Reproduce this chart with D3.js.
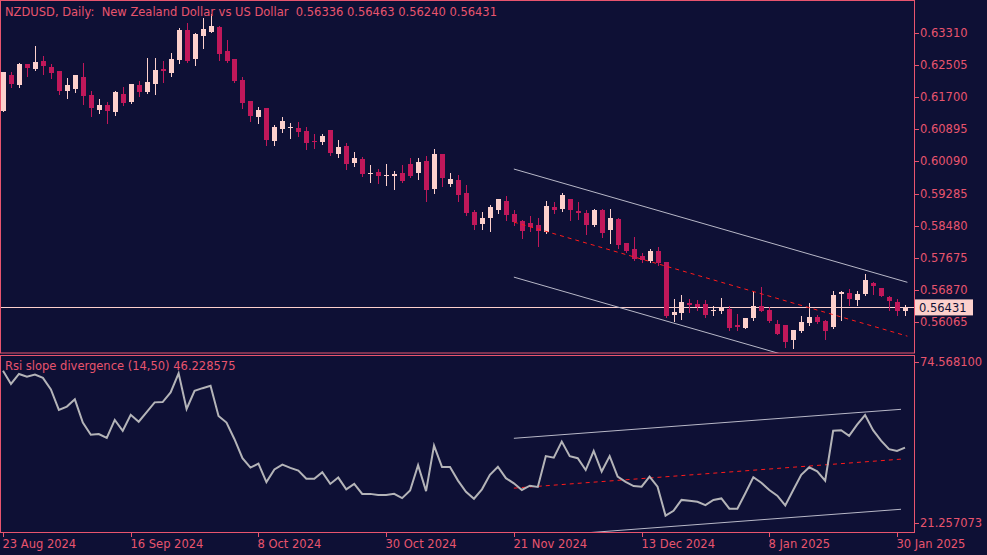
<!DOCTYPE html>
<html><head><meta charset="utf-8">
<script src="https://cdn.jsdelivr.net/npm/d3@7"></script>
<style>body{margin:0;background:#0e1035;}svg{display:block;font-family:"DejaVu Sans",sans-serif;}</style>
</head><body><svg id="c" width="987" height="555"></svg>
<script>
const open=[.6135,.6226,.6201,.6253,.6241,.6261,.6246,.6236,.6186,.6191,.6221,.6176,.6138,.6150,.6133,.6178,.6158,.6201,.6183,.6203,.6241,.6231,.6263,.6339,.6266,.6324,.6334,.6346,.6286,.6266,.6213,.6161,.6120,.6143,.6060,.6090,.6093,.6093,.6085,.6060,.6058,.6088,.6027,.6048,.6005,.6015,.5979,.5982,.5974,.5972,.5980,.6002,.5980,.6010,.5940,.6027,.5952,.5962,.5930,.5882,.5852,.5867,.5887,.5910,.5877,.5859,.5854,.5849,.5832,.5894,.5889,.5915,.5884,.5879,.5849,.5887,.5837,.5864,.5804,.5789,.5771,.5759,.5784,.5756,.5623,.5628,.5653,.5651,.5651,.5633,.5633,.5638,.5598,.5591,.5616,.5646,.5636,.5601,.5598,.5561,.5583,.5603,.5618,.5608,.5593,.5676,.5679,.5661,.5676,.5704,.5691,.5669,.5656,.5633];
const high=[.6233,.6233,.6256,.6253,.6299,.6273,.6253,.6236,.6218,.6226,.6256,.6186,.6166,.6158,.6186,.6196,.6203,.6211,.6268,.6268,.6261,.6281,.6344,.6356,.6331,.6369,.6379,.6349,.6314,.6266,.6221,.6161,.6145,.6143,.6100,.6120,.6105,.6108,.6095,.6078,.6078,.6088,.6063,.6055,.6033,.6020,.6000,.5990,.6002,.5985,.6000,.6017,.6017,.6022,.6040,.6027,.5980,.5975,.5950,.5887,.5882,.5899,.5915,.5922,.5887,.5862,.5872,.5867,.5910,.5907,.5930,.5915,.5907,.5887,.5889,.5889,.5889,.5867,.5804,.5819,.5779,.5789,.5794,.5756,.5664,.5674,.5664,.5661,.5661,.5646,.5666,.5646,.5626,.5616,.5684,.5694,.5643,.5611,.5598,.5586,.5621,.5653,.5623,.5611,.5684,.5684,.5689,.5684,.5726,.5706,.5691,.5671,.5664,.5648];
const low=[.6135,.6196,.6196,.6223,.6238,.6228,.6218,.6178,.6168,.6183,.6153,.6123,.6130,.6105,.6126,.6150,.6155,.6173,.6181,.6178,.6208,.6223,.6256,.6258,.6251,.6294,.6334,.6263,.6258,.6208,.6143,.6110,.6105,.6050,.6050,.6083,.6068,.6073,.6040,.6043,.6053,.6025,.6020,.5990,.5997,.5972,.5957,.5955,.5950,.5940,.5957,.5970,.5965,.5910,.5930,.5947,.5947,.5910,.5874,.5839,.5839,.5834,.5879,.5862,.5849,.5817,.5834,.5797,.5829,.5879,.5884,.5862,.5864,.5827,.5847,.5819,.5804,.5792,.5781,.5761,.5756,.5756,.5749,.5618,.5608,.5613,.5631,.5636,.5618,.5623,.5628,.5586,.5586,.5591,.5611,.5633,.5606,.5576,.5543,.5541,.5581,.5598,.5603,.5563,.5591,.5611,.5648,.5648,.5674,.5676,.5671,.5636,.5623,.5623];
const close=[.6233,.6203,.6253,.6243,.6258,.6248,.6231,.6186,.6201,.6226,.6173,.6143,.6150,.6135,.6183,.6155,.6203,.6183,.6208,.6238,.6236,.6266,.6339,.6261,.6329,.6341,.6349,.6278,.6261,.6211,.6155,.6123,.6138,.6063,.6095,.6110,.6095,.6083,.6055,.6058,.6073,.6030,.6045,.6002,.6017,.5977,.5981,.5972,.5976,.5977,.5960,.5972,.6007,.5937,.6027,.5967,.5965,.5925,.5879,.5849,.5867,.5894,.5915,.5874,.5857,.5834,.5844,.5834,.5897,.5887,.5925,.5887,.5879,.5849,.5887,.5829,.5867,.5799,.5784,.5764,.5761,.5784,.5754,.5621,.5631,.5656,.5648,.5643,.5623,.5636,.5641,.5591,.5593,.5616,.5646,.5633,.5608,.5576,.5556,.5586,.5606,.5618,.5606,.5583,.5674,.5681,.5664,.5676,.5711,.5696,.5671,.5658,.5633,.56431];
const rsi=[71.7,67.3,70.6,69.7,70.4,69.3,65.5,58.7,59.8,62.2,54.5,50.5,50.7,49.4,55.4,51.8,57.1,54.8,58.0,61.2,61.3,64.5,70.8,59.0,65.0,65.9,66.7,56.7,54.5,49.0,42.7,39.6,40.9,34.8,39.0,40.6,39.5,38.6,35.9,35.9,38.1,34.2,36.3,32.4,34.2,30.9,30.9,30.5,30.5,30.9,29.5,32.0,40.4,31.8,46.9,39.8,39.8,35.3,31.6,29.3,32.4,37.2,39.9,36.1,34.4,32.2,33.6,33.2,43.4,42.9,48.2,43.4,42.7,38.8,45.1,38.3,43.4,36.6,34.9,33.5,33.3,36.6,33.3,23.7,25.3,28.9,28.6,28.3,27.2,28.9,29.4,26.0,26.0,31.1,36.4,34.6,32.2,30.3,27.1,32.2,37.2,39.7,38.4,35.3,51.8,52.0,50.1,53.8,57.0,52.0,48.5,45.7,45.1,46.2];
const priceTicks=[0.63310,0.62505,0.61700,0.60895,0.60090,0.59285,0.58480,0.57675,0.56870,0.56065];
const rsiTicks=[74.568100,21.257073];
const dateIdx=[0,16,32,48,64,80,96,112];
const dateLabels=["23 Aug 2024","16 Sep 2024","8 Oct 2024","30 Oct 2024","21 Nov 2024","13 Dec 2024","8 Jan 2025","30 Jan 2025"];
// channel lines [startIdx, startVal, endIdx, endVal]
const priceUpper=[64,0.5990,113.3,0.5706], priceMid=[64,0.5857,113.3,0.5571], priceLower=[64,0.5719,113.3,0.5435];
const rsiUpper=[64,49.3,112.5,58.9], rsiMid=[64,32.8,112.5,42.4], rsiLower=[64,16.2,112.5,25.8];
const lastPrice=0.56431;
const title="NZDUSD, Daily:  New Zealand Dollar vs US Dollar  0.56336 0.56463 0.56240 0.56431";

const BG="#0e1035",FG="#e8546e",BULL="#fcd0cc",BEAR="#c0185a";
const svg=d3.select("#c");
const W=914;
const x=d3.scaleLinear().domain([0,113]).range([3,905]);
const y=d3.scaleLinear().domain([0.56065,0.63310]).range([322,33]);
const yr=d3.scaleLinear().domain([21.257073,74.568100]).range([523,362]);

svg.append("defs").html('<clipPath id="cp1"><rect x="1" y="1" width="913" height="352"/></clipPath><clipPath id="cp2"><rect x="1" y="356" width="913" height="176"/></clipPath>');
const g1=svg.append("g").attr("clip-path","url(#cp1)");
const g2=svg.append("g").attr("clip-path","url(#cp2)");

// last price line
g1.append("line").attr("x1",0).attr("x2",W).attr("y1",Math.round(y(lastPrice))+0.5).attr("y2",Math.round(y(lastPrice))+0.5).attr("stroke",BULL);

const idx=d3.range(open.length);
g1.selectAll(".w").data(idx).join("line").attr("shape-rendering","crispEdges")
 .attr("x1",i=>Math.round(x(i))+0.5).attr("x2",i=>Math.round(x(i))+0.5)
 .attr("y1",i=>y(high[i])).attr("y2",i=>y(low[i])+1)
 .attr("stroke",i=>close[i]>=open[i]?BULL:BEAR);
g1.selectAll(".b").data(idx).join("rect").attr("shape-rendering","crispEdges")
 .attr("x",i=>Math.round(x(i))-2).attr("width",5)
 .attr("y",i=>y(Math.max(open[i],close[i])))
 .attr("height",i=>Math.max(1,y(Math.min(open[i],close[i]))-y(Math.max(open[i],close[i]))))
 .attr("fill",i=>close[i]>=open[i]?BULL:BEAR);

function seg(g,s,sc,col,dash){
 g.append("line").attr("x1",x(s[0])).attr("y1",sc(s[1])).attr("x2",x(s[2])).attr("y2",sc(s[3]))
  .attr("stroke",col).attr("stroke-width",1).attr("stroke-dasharray",dash||null);
}
seg(g1,priceUpper,y,"#b8b8c8");seg(g1,priceLower,y,"#b8b8c8");seg(g1,priceMid,y,"#ff1a1a","4,4");
seg(g2,rsiUpper,yr,"#b8b8c8");seg(g2,rsiLower,yr,"#b8b8c8");seg(g2,rsiMid,yr,"#ff1a1a","4,4");

g2.append("path").datum(rsi).attr("fill","none").attr("stroke","#b4b4b8").attr("stroke-width",2)
 .attr("d",d3.line().x((d,i)=>x(i)).y(d=>yr(d)));

// frames
svg.append("rect").attr("x",0.5).attr("y",0.5).attr("width",W).attr("height",352.5).attr("fill","none").attr("stroke",FG);
svg.append("rect").attr("x",0.5).attr("y",355.5).attr("width",W).attr("height",177).attr("fill","none").attr("stroke",FG);

// price axis
const pa=svg.append("g");
priceTicks.forEach(p=>{
 pa.append("line").attr("x1",W).attr("x2",W+5).attr("y1",Math.round(y(p))+0.5).attr("y2",Math.round(y(p))+0.5).attr("stroke",FG);
 pa.append("text").attr("x",W+6).attr("y",y(p)+4).attr("fill",FG).attr("font-size",11.5).text(p.toFixed(5));
});
rsiTicks.forEach(v=>{
 pa.append("line").attr("x1",W).attr("x2",W+5).attr("y1",Math.round(yr(v))+0.5).attr("y2",Math.round(yr(v))+0.5).attr("stroke",FG);
 pa.append("text").attr("x",W+6).attr("y",yr(v)+4).attr("fill",FG).attr("font-size",11.5).text(v.toFixed(6));
});
// last price label
pa.append("rect").attr("x",W+1).attr("y",y(lastPrice)-8).attr("width",58).attr("height",16).attr("fill",BULL);
pa.append("text").attr("x",W+5).attr("y",y(lastPrice)+4.5).attr("fill",BG).attr("font-size",11.5).text(lastPrice.toFixed(5));

// date axis
dateIdx.forEach((d,k)=>{
 const xx=Math.round(x(d))+0.5;
 svg.append("line").attr("x1",xx).attr("x2",xx).attr("y1",532).attr("y2",537).attr("stroke",FG);
 svg.append("text").attr("x",xx-1).attr("y",548).attr("fill",FG).attr("font-size",11.5).text(dateLabels[k]);
});

svg.append("text").attr("x",5).attr("y",16).attr("fill",FG).attr("font-size",11.5).attr("xml:space","preserve").style("white-space","pre").text(title);
svg.append("text").attr("x",5).attr("y",370).attr("fill",FG).attr("font-size",11.5).text("Rsi slope divergence (14,50) 46.228575");
</script></body></html>
